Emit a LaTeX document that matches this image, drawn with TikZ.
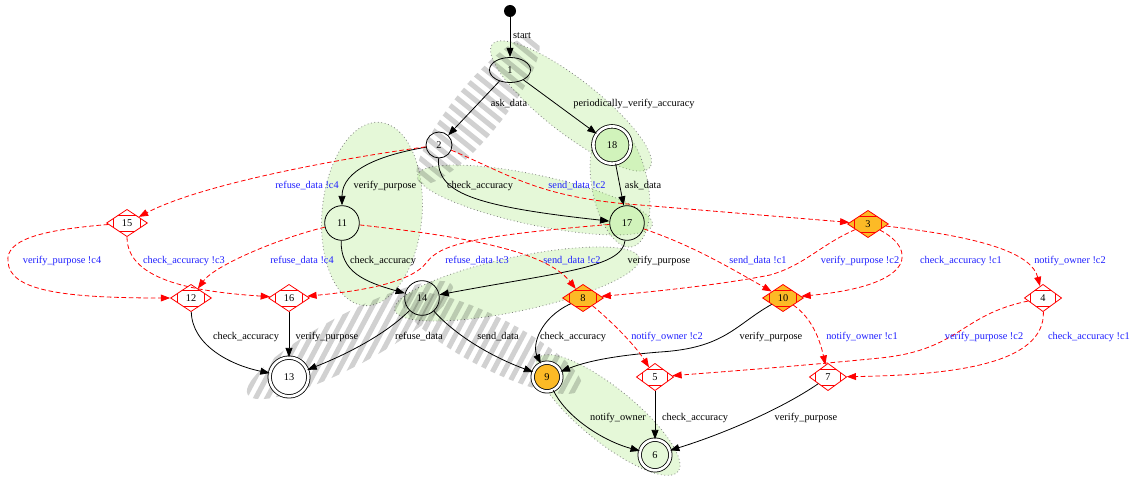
\documentclass[tikz,border=0pt]{standalone}
\usepackage{fontspec}
\setmainfont{Liberation Serif}
\usetikzlibrary{arrows.meta,shapes.geometric,calc}
\definecolor{hotfill}{RGB}{252,186,38}
\definecolor{hlgreen}{RGB}{150,228,100}
\definecolor{lblblue}{RGB}{30,30,255}

\begin{document}
\begin{tikzpicture}[x=0.75pt,y=0.75pt,yscale=-1,
  font=\fontsize{7.75}{9}\selectfont,
  st/.style={circle,draw,line width=0.6pt,inner sep=0pt,minimum size=26pt},
  acc/.style={st,double,double distance=2pt},
  dmd/.style={diamond,draw=red,fill=white,line width=0.6pt,inner sep=0pt,minimum width=30.75pt,minimum height=20.5pt,
    path picture={\draw[red,line width=0.5pt]
      ($(path picture bounding box.north west)!0.2!(path picture bounding box.south west)$) --
      ($(path picture bounding box.north east)!0.2!(path picture bounding box.south east)$)
      ($(path picture bounding box.north west)!0.8!(path picture bounding box.south west)$) --
      ($(path picture bounding box.north east)!0.8!(path picture bounding box.south east)$)
      ($(path picture bounding box.north west)!0.17!(path picture bounding box.north east)$) --
      ($(path picture bounding box.south west)!0.17!(path picture bounding box.south east)$)
      ($(path picture bounding box.north west)!0.83!(path picture bounding box.north east)$) --
      ($(path picture bounding box.south west)!0.83!(path picture bounding box.south east)$);}},
  hot/.style={dmd,fill=hotfill},
  tr/.style={-{Triangle[length=7pt,width=5.2pt]},line width=0.6pt},
  rtr/.style={tr,red,dash pattern=on 3.5pt off 2pt},
  tl/.style={inner sep=1pt,text height=5.5pt,text depth=1.8pt},
  rl/.style={tl,text=lblblue},
  hl/.style={fill=hlgreen,fill opacity=0.25,draw=gray,dotted,line width=0.6pt},
  stripe/.style={draw=black,draw opacity=0.18,line width=3.8pt}
]
\useasboundingbox (0,0) rectangle (1137,477);

% highlighted runs
\draw[hl,rotate around={38:(571,106)}] (571,106) ellipse (100 and 27);
\draw[hl,rotate around={5:(372,214)}] (372,214) ellipse (50 and 92);
\draw[hl,rotate around={12:(535,200)}] (535,200) ellipse (120 and 25);
\draw[hl,rotate around={-11:(620,186)}] (620,186) ellipse (28 and 62);
\draw[hl,rotate around={-12:(517,284)}] (517,284) ellipse (125 and 27);
\draw[hl,rotate around={39:(608,415)}] (608,415) ellipse (90 and 27);

% striped runs
\begin{scope}
  \clip[rotate around={-51:(478,110)}] (478,110) ellipse (93 and 25);
  \begin{scope}[shift={(478,110)},rotate=39]
    \foreach \s in {-126,-116,...,126} \draw[stripe] (-150,\s) -- (150,\s);
  \end{scope}
\end{scope}
\begin{scope}
  \clip[rotate around={-28:(350,340)}] (350,340) ellipse (116 and 26);
  \begin{scope}[shift={(350,340)},rotate=-62]
    \foreach \s in {-126,-116,...,126} \draw[stripe] (-150,\s) -- (150,\s);
  \end{scope}
\end{scope}
\begin{scope}
  \clip[rotate around={27:(492,343)}] (492,343) ellipse (100 and 26);
  \begin{scope}[shift={(492,343)},rotate=-62]
    \foreach \s in {-126,-116,...,126} \draw[stripe] (-150,\s) -- (150,\s);
  \end{scope}
\end{scope}

% states
\node[circle,fill,inner sep=0pt,minimum size=9pt] (s0) at (510,11) {};
\node[ellipse,draw,line width=0.6pt,inner sep=0pt,minimum width=30.75pt,minimum height=18.75pt] (n1) at (510,70) {1};
\node[st,minimum size=19.5pt] (n2) at (439,145) {2};
\node[acc,minimum size=28pt] (n18) at (612,145) {18};
\node[st] (n17) at (627,223) {17};
\node[st] (n11) at (342,223) {11};
\node[st] (n14) at (422,298) {14};
\node[acc,fill=white,minimum size=29pt] (n13) at (289,377) {13};
\node[acc,fill=hotfill,minimum size=21.5pt] (n9) at (547,377) {9};
\node[acc,minimum size=23pt] (n6) at (655,455) {6};

% choice points
\node[dmd] (n15) at (127,223) {15};
\node[hot] (n3) at (868,224) {3};
\node[dmd] (n12) at (191,298) {12};
\node[dmd] (n16) at (289,298) {16};
\node[hot] (n8) at (583,298) {8};
\node[hot] (n10) at (783,298) {10};
\node[dmd,minimum width=28pt] (n4) at (1043,298) {4};
\node[dmd,minimum width=28pt] (n5) at (655,377) {5};
\node[dmd,minimum width=28pt] (n7) at (828,377) {7};

% transitions
\draw[tr] (s0) -- (n1);
\draw[tr] (n1) -- (n2);
\draw[tr] (n1) -- (n18);
\draw[tr] (n2) .. controls (380,155) and (342,170) .. (n11);
\draw[tr] (n2) .. controls (437,192) and (470,206) .. (n17);
\draw[tr] (n18) -- (n17);
\draw[tr] (n11) .. controls (340,272) and (365,282) .. (n14);
\draw[tr] (n17) .. controls (622,268) and (560,272) .. (n14);
\draw[tr] (n14) .. controls (385,335) and (345,355) .. (n13);
\draw[tr] (n14) .. controls (460,340) and (500,360) .. (n9);
\draw[tr] (n12) .. controls (192,345) and (230,365) .. (n13);
\draw[tr] (n16) -- (n13);
\draw[tr] (n8) .. controls (540,318) and (532,345) .. (n9);
\draw[tr] (n10) .. controls (735,325) and (725,348) .. (660,352) .. controls (610,356) and (585,362) .. (n9);
\draw[tr] (n9) .. controls (565,415) and (600,440) .. (n6);
\draw[tr] (n5) -- (n6);
\draw[tr] (n7) .. controls (780,410) and (720,435) .. (n6);

% controller moves
\draw[rtr] (n2) .. controls (510,175) and (540,198) .. (640,205) -- (n3);
\draw[rtr] (n2) .. controls (330,160) and (200,185) .. (n15);
\draw[rtr] (n15) .. controls (40,230) and (5,240) .. (8,262) .. controls (10,290) and (60,298) .. (n12);
\draw[rtr] (n15) .. controls (127,282) and (200,292) .. (n16);
\draw[rtr] (n11) .. controls (280,238) and (215,265) .. (n12);
\draw[rtr] (n17) .. controls (470,236) and (440,245) .. (427,262) .. controls (410,285) and (350,292) .. (n16);
\draw[rtr] (n11) .. controls (460,236) and (545,250) .. (n8);
\draw[rtr] (n17) .. controls (690,245) and (720,262) .. (n10);
\draw[rtr] (n3) .. controls (820,245) and (805,265) .. (770,275) .. controls (720,285) and (650,292) .. (n8);
\draw[rtr] (n3) .. controls (915,248) and (920,285) .. (n10);
\draw[rtr] (n3) .. controls (990,238) and (1032,255) .. (n4);
\draw[rtr] (n8) .. controls (610,320) and (635,345) .. (n5);
\draw[rtr] (n10) .. controls (812,318) and (820,340) .. (n7);
\draw[rtr] (n4) .. controls (960,315) and (960,350) .. (880,358) .. controls (800,366) and (720,372) .. (n5);
\draw[rtr] (n4) .. controls (1045,365) and (950,375) .. (n7);

% labels
\node[tl] (ls) at (522,36) {start};
\node[tl] (la1) at (509,104) {ask\_data};
\node[tl] (la2) at (634,104) {periodically\_verify\_accuracy};
\node[tl] (la3) at (385,186) {verify\_purpose};
\node[tl] (la4) at (480,186) {check\_accuracy};
\node[rl] (la5) at (577,186) {send\_data !c2};
\node[tl] (la6) at (643,186) {ask\_data};
\node[rl] (la7) at (307,186) {refuse\_data !c4};
\node[rl] (la8) at (62,261) {verify\_purpose !c4};
\node[rl] (la9) at (184,261) {check\_accuracy !c3};
\node[rl] (la10) at (302,261) {refuse\_data !c4};
\node[tl] (la11) at (383,261) {check\_accuracy};
\node[rl] (la12) at (477,261) {refuse\_data !c3};
\node[rl] (la13) at (572,261) {send\_data !c2};
\node[tl] (la14) at (659,261) {verify\_purpose};
\node[rl] (la15) at (758,261) {send\_data !c1};
\node[rl] (la16) at (860,261) {verify\_purpose !c2};
\node[rl] (la17) at (961,261) {check\_accuracy !c1};
\node[rl] (la18) at (1070,261) {notify\_owner !c2};
\node[tl] (la19) at (246,337) {check\_accuracy};
\node[tl] (la20) at (327,337) {verify\_purpose};
\node[tl] (la21) at (419,337) {refuse\_data};
\node[tl] (la22) at (498,337) {send\_data};
\node[tl] (la23) at (573,337) {check\_accuracy};
\node[rl] (la24) at (667,337) {notify\_owner !c2};
\node[tl] (la25) at (771,337) {verify\_purpose};
\node[rl] (la26) at (862,337) {notify\_owner !c1};
\node[rl] (la27) at (984,337) {verify\_purpose !c2};
\node[rl] (la28) at (1089,337) {check\_accuracy !c1};
\node[tl] (la29) at (618,418) {notify\_owner};
\node[tl] (la30) at (695,418) {check\_accuracy};
\node[tl] (la31) at (806,418) {verify\_purpose};

\end{tikzpicture}
\end{document}
